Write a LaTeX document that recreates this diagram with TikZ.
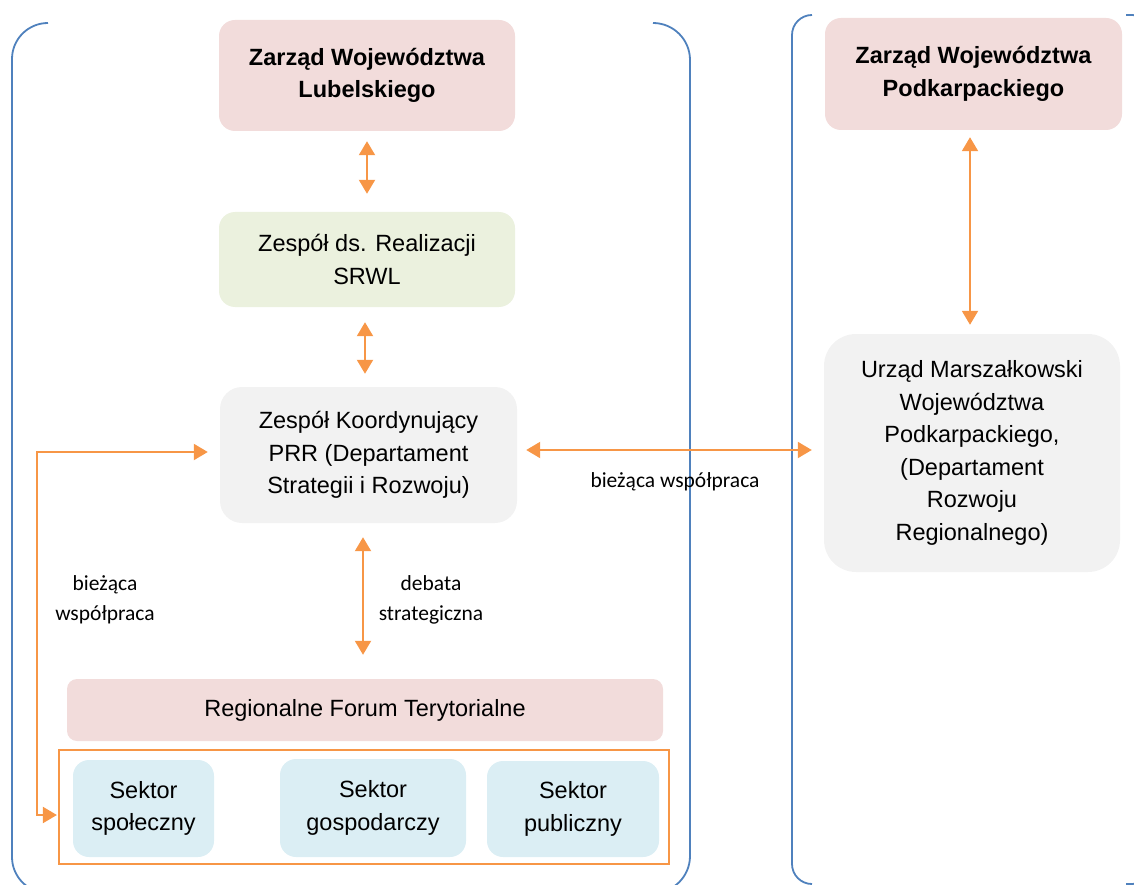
\documentclass[tikz,border=0pt]{standalone}
\usepackage{fontspec}
\setmainfont{Liberation Sans}
\newfontfamily\labfont{Carlito}
\usetikzlibrary{arrows.meta}
\definecolor{pinkbox}{HTML}{F2DCDB}
\definecolor{greenbox}{HTML}{EBF1DE}
\definecolor{graybox}{HTML}{F2F2F2}
\definecolor{bluebox}{HTML}{DBEEF4}
\definecolor{orangeln}{HTML}{F79646}
\definecolor{bracketblue}{HTML}{4F81BD}
\tikzset{
  boxbase/.style={align=center, inner sep=0pt, font=\fontsize{23.5}{32.5}\selectfont, text=black},
  pinkb/.style={boxbase, fill=pinkbox, rounded corners=16pt},
  greenb/.style={boxbase, fill=greenbox, rounded corners=16pt},
  grayb/.style={boxbase, fill=graybox, rounded corners=22pt},
  blueb/.style={boxbase, fill=bluebox, rounded corners=16pt},
  grpbox/.style={draw=orangeln, line width=2.2pt, inner sep=0pt},
  arr/.style={draw=orangeln, line width=2pt, {Triangle[length=14pt,width=16pt]}-{Triangle[length=14pt,width=16pt]}},
  lab/.style={align=center, inner sep=0pt, font=\labfont\fontsize{21.5}{30}\selectfont, text=black},
  bracket/.style={draw=bracketblue, line width=1.8pt},
}
\begin{document}
\begin{tikzpicture}[x=1pt,y=-1pt]
\useasboundingbox (0,0) rectangle (1134,885);
\clip (0,0) rectangle (1134,885);
% brackets
\draw[bracket, rounded corners=36pt] (48,23) -- (12,23) -- (12,893) -- (48,893);
\draw[bracket, rounded corners=37pt] (653,23) -- (690,23) -- (690,893) -- (653,893);
\draw[bracket, rounded corners=20pt] (812,15) -- (792,15) -- (792,884) -- (812,884);
\draw[bracket, rounded corners=20pt] (1126,15) -- (1152,15) -- (1152,884) -- (1126,884);
% boxes
\node[pinkb, minimum width=296pt, minimum height=111pt] (Z1) at (367,75.5) {\textbf{Zarząd Województwa}\\\textbf{Lubelskiego}};
\node[pinkb, minimum width=297pt, minimum height=112pt] (Z2) at (973.5,74) {\textbf{Zarząd Województwa}\\\textbf{Podkarpackiego}};
\node[greenb, minimum width=296pt, minimum height=95pt] (SR) at (367,259.5) {Zespół ds. Realizacji\\SRWL};
\node[grayb, minimum width=297pt, minimum height=136pt] (KO) at (368.5,455) {Zespół Koordynujący\\PRR (Departament\\Strategii i Rozwoju)};
\node[grayb, rounded corners=32pt, minimum width=296pt, minimum height=238pt] (UM) at (972,453) {Urząd Marszałkowski\\Województwa\\Podkarpackiego,\\(Departament\\Rozwoju\\Regionalnego)};
\node[pinkb, rounded corners=10pt, minimum width=596pt, minimum height=62pt] (RF) at (365,710) {Regionalne Forum Terytorialne};
\node[grpbox, minimum width=610pt, minimum height=114pt] (GR) at (364,807) {};
\node[blueb, minimum width=141pt, minimum height=97pt] (S1) at (143.5,808.5) {Sektor\\społeczny};
\node[blueb, minimum width=186pt, minimum height=98pt] (S2) at (373,808) {Sektor\\gospodarczy};
\node[blueb, minimum width=172pt, minimum height=96pt] (S3) at (573,809) {Sektor\\publiczny};
% labels
\node[lab] (L1) at (675,482) {bieżąca współpraca};
\node[lab] (L2) at (105,600) {bieżąca\\współpraca};
\node[lab] (L3) at (431,600) {debata\\strategiczna};
% connectors
\coordinate (e1) at (37,452);
\coordinate (e2) at (37,815);
\draw[arr, shorten <=10pt, shorten >=18pt] (Z1.south) -- (Z1.south |- SR.north);
\draw[arr, shorten <=15pt, shorten >=13pt] ([xshift=-2pt]SR.south) -- ([xshift=-2pt]SR.south |- KO.north);
\draw[arr, shorten <=14pt, shorten >=24pt] ([xshift=-5.5pt]KO.south) -- ([xshift=-5.5pt]KO.south |- RF.north);
\draw[arr, shorten <=7pt, shorten >=9pt] ([xshift=-3.5pt]Z2.south) -- ([xshift=-3.5pt]Z2.south |- UM.north);
\draw[arr, shorten <=9pt, shorten >=12pt] ([yshift=5pt]KO.east) -- ([yshift=5pt]KO.east -| UM.west);
\draw[arr, shorten <=12pt, shorten >=1pt] ([yshift=3pt]KO.west) -- (e1) -- (e2) -- ([yshift=-8pt]GR.west);
\end{tikzpicture}
\end{document}
